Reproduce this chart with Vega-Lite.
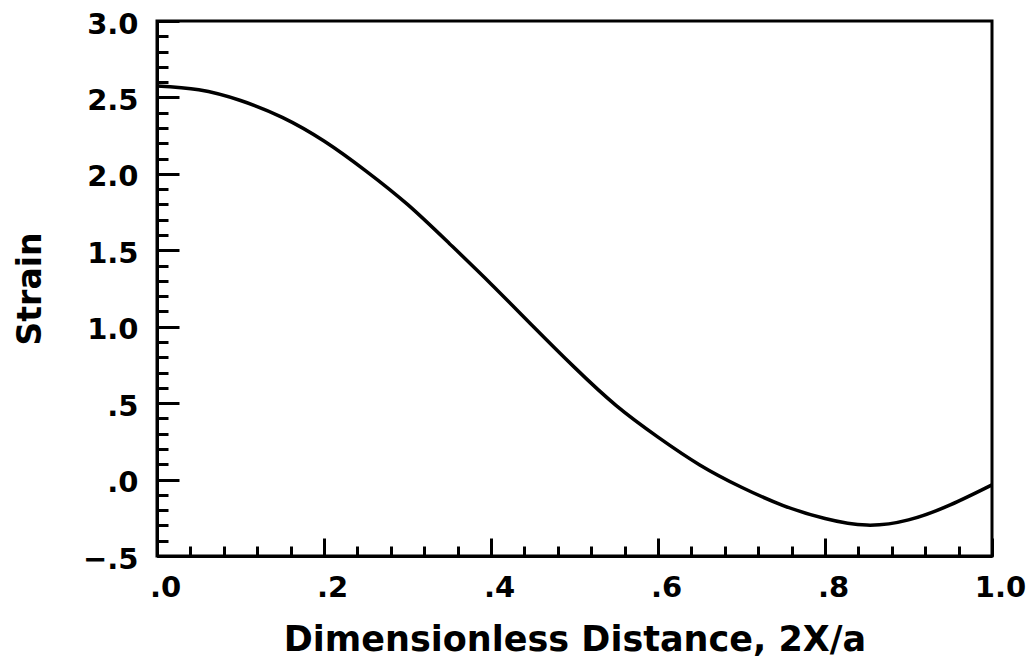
{
  "$schema": "https://vega.github.io/schema/vega-lite/v6.json",
  "width": 835,
  "height": 535,
  "autosize": {"type": "none"},
  "padding": {"left": 157, "top": 21, "right": 44, "bottom": 106},
  "background": "white",
  "config": {
    "view": {"stroke": "black", "strokeWidth": 3},
    "axis": {
      "font": "DejaVu Sans",
      "labelFont": "DejaVu Sans",
      "titleFont": "DejaVu Sans",
      "labelFontWeight": "bold",
      "titleFontWeight": "bold",
      "labelColor": "black",
      "titleColor": "black",
      "domainColor": "black",
      "domainWidth": 3,
      "tickColor": "black",
      "tickWidth": 3,
      "ticks": true,
      "grid": false,
      "labelOverlap": false,
      "labelBound": false,
      "labelFlush": false
    }
  },
  "data": {
    "values": [
      {"x": 0.00, "strain": 2.575},
      {"x": 0.05, "strain": 2.55},
      {"x": 0.10, "strain": 2.48},
      {"x": 0.15, "strain": 2.37},
      {"x": 0.20, "strain": 2.215},
      {"x": 0.25, "strain": 2.02},
      {"x": 0.30, "strain": 1.80},
      {"x": 0.35, "strain": 1.545},
      {"x": 0.40, "strain": 1.28},
      {"x": 0.45, "strain": 1.005},
      {"x": 0.50, "strain": 0.734},
      {"x": 0.55, "strain": 0.484},
      {"x": 0.60, "strain": 0.278},
      {"x": 0.65, "strain": 0.096},
      {"x": 0.70, "strain": -0.05},
      {"x": 0.75, "strain": -0.17},
      {"x": 0.80, "strain": -0.255},
      {"x": 0.85, "strain": -0.298},
      {"x": 0.90, "strain": -0.264},
      {"x": 0.95, "strain": -0.166},
      {"x": 1.00, "strain": -0.035}
    ]
  },
  "resolve": {"axis": {"x": "independent", "y": "independent"}},
  "layer": [
    {
      "mark": {"type": "line", "color": "black", "strokeWidth": 3.5, "interpolate": "natural"},
      "encoding": {
        "x": {
          "field": "x",
          "type": "quantitative",
          "scale": {"domain": [0, 1], "nice": false, "zero": false},
          "axis": {
            "orient": "bottom",
            "title": "Dimensionless Distance, 2X/a",
            "titleFontSize": 35,
            "titlePadding": 20,
            "labelFontSize": 29,
            "labelPadding": 27,
            "labelOffset": 8,
            "tickSize": -10,
            "values": [0, 0.04, 0.08, 0.12, 0.16, 0.2, 0.24, 0.28, 0.32, 0.36, 0.4, 0.44, 0.48, 0.52, 0.56, 0.6, 0.64, 0.68, 0.72, 0.76, 0.8, 0.84, 0.88, 0.92, 0.96, 1.0],
            "labelExpr": "abs(datum.value*5 - round(datum.value*5)) < 0.01 ? replace(format(datum.value, '.1f'), '0.', '.') : ''"
          }
        },
        "y": {
          "field": "strain",
          "type": "quantitative",
          "scale": {"domain": [-0.5, 3.0], "nice": false, "zero": false},
          "axis": {
            "orient": "left",
            "title": "Strain",
            "titleFontSize": 33,
            "titlePadding": 35,
            "labelFontSize": 29,
            "labelPadding": 30,
            "labelOffset": 3,
            "tickSize": -11,
            "values": [-0.5, -0.4, -0.3, -0.2, -0.1, 0, 0.1, 0.2, 0.3, 0.4, 0.5, 0.6, 0.7, 0.8, 0.9, 1.0, 1.1, 1.2, 1.3, 1.4, 1.5, 1.6, 1.7, 1.8, 1.9, 2.0, 2.1, 2.2, 2.3, 2.4, 2.5, 2.6, 2.7, 2.8, 2.9, 3.0],
            "labelExpr": "abs(datum.value*2 - round(datum.value*2)) < 0.01 ? replace(format(datum.value, '.1f'), '0.', '.') : ''"
          }
        }
      }
    },
    {
      "mark": {"type": "line", "color": "black", "strokeWidth": 3.5, "strokeOpacity": 0, "interpolate": "natural"},
      "encoding": {
        "x": {
          "field": "x",
          "type": "quantitative",
          "axis": {
            "orient": "bottom",
            "title": null,
            "labels": false,
            "domain": false,
            "tickSize": -18,
            "values": [0, 0.2, 0.4, 0.6, 0.8, 1.0]
          }
        },
        "y": {
          "field": "strain",
          "type": "quantitative",
          "axis": {
            "orient": "left",
            "title": null,
            "labels": false,
            "domain": false,
            "tickSize": -22,
            "values": [-0.5, 0, 0.5, 1.0, 1.5, 2.0, 2.5, 3.0]
          }
        }
      }
    }
  ]
}
